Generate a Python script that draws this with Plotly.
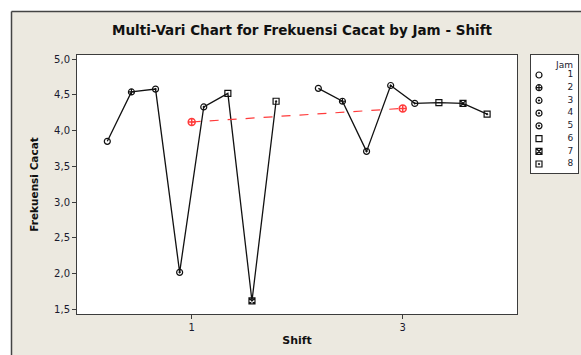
import plotly.graph_objects as go

# ---------------- data ----------------
shifts = [1, 3]
shift_labels = ["1", "3"]
jams = [1, 2, 3, 4, 5, 6, 7, 8]
jam_labels = ["1", "2", "3", "4", "5", "6", "7", "8"]
cacat_shift1 = [3.85, 4.54, 4.58, 2.02, 4.33, 4.52, 1.62, 4.41]
cacat_shift3 = [4.59, 4.41, 3.71, 4.63, 4.38, 4.39, 4.38, 4.23]
shift_means = [4.12, 4.31]
y_ticks = [1.5, 2.0, 2.5, 3.0, 3.5, 4.0, 4.5, 5.0]

# ---------------- style ----------------
jam_symbols = ["circle-open", "circle-cross-open", "circle-open-dot", "circle-open-dot",
               "circle-open-dot", "square-open", "square-x-open", "square-open-dot"]
BEIGE = "#ECE9E0"
DARK = "#3c3c3c"
TXT = "#1a1a2e"
FONT = "DejaVu Sans"

W, H = 581, 355
ML, MR, MT, MB = 77, 3, 55, 41
PW, PH = W - ML - MR, H - MT - MB
main_right_px = 517
leg_x0_px, leg_x1_px, leg_y1_px = 531, 578, 173


def px_x(p):
    return (p - ML) / PW


def px_y(p):
    return (H - MB - p) / PH


jam_spacing = 0.2285  # horizontal separation of Jam levels within a Shift
series = [cacat_shift1, cacat_shift3]

fig = go.Figure()

for s, vals in zip(shifts, series):
    xs = [s + (j - 4.5) * jam_spacing for j in jams]
    fig.add_trace(go.Scatter(
        x=xs, y=vals, mode="lines+markers",
        line=dict(color="#111111", width=1.3),
        marker=dict(symbol=[jam_symbols[j - 1] for j in jams], size=6,
                    color="#111111", line=dict(width=1.2, color="#111111")),
        showlegend=False, hoverinfo="skip"))

fig.add_trace(go.Scatter(
    x=shifts, y=shift_means, mode="lines+markers",
    line=dict(color="#ff3b3b", width=1.2, dash="dash"),
    marker=dict(symbol="circle-cross-open", size=7, color="#ff3b3b",
                line=dict(width=1.5, color="#ff3b3b")),
    showlegend=False, hoverinfo="skip"))

# legend built as an inset subplot
fig.add_trace(go.Scatter(
    x=[0.17] * len(jams), y=jams, mode="markers",
    marker=dict(symbol=jam_symbols, size=6, color="#111111",
                line=dict(width=1.2, color="#111111")),
    xaxis="x2", yaxis="y2", showlegend=False, hoverinfo="skip"))
fig.add_trace(go.Scatter(
    x=[0.9] * len(jams), y=jams, mode="text", text=jam_labels,
    textposition="middle left",
    textfont=dict(family=FONT, size=9, color=TXT),
    xaxis="x2", yaxis="y2", showlegend=False, hoverinfo="skip"))

shapes = [
    dict(type="rect", xref="paper", yref="paper", x0=px_x(-5), x1=px_x(W + 5),
         y0=px_y(11.5), y1=px_y(-5), fillcolor="white", line=dict(width=0), layer="below"),
    dict(type="rect", xref="paper", yref="paper", x0=px_x(-5), x1=px_x(11.5),
         y0=px_y(H + 5), y1=px_y(-5), fillcolor="white", line=dict(width=0), layer="below"),
    dict(type="line", xref="paper", yref="paper", x0=px_x(11.5), x1=px_x(W + 5),
         y0=px_y(11.5), y1=px_y(11.5), line=dict(color="#444", width=1.5), layer="below"),
    dict(type="line", xref="paper", yref="paper", x0=px_x(11.5), x1=px_x(11.5),
         y0=px_y(11.5), y1=px_y(H + 5), line=dict(color="#444", width=1.5), layer="below"),
]

fig.update_layout(
    width=W, height=H,
    margin=dict(l=ML, r=MR, t=MT, b=MB),
    paper_bgcolor=BEIGE, plot_bgcolor="white",
    separators=",.",
    font=dict(family=FONT, size=10, color=TXT),
    title=dict(text="<b>Multi-Vari Chart for Frekuensi Cacat by Jam - Shift</b>",
               x=302 / W, xanchor="center",
               y=1 - 30 / H, yanchor="middle",
               font=dict(family=FONT, size=13.5, color="#111")),
    xaxis=dict(domain=[0, px_x(main_right_px)], range=[-0.087, 4.083],
               tickvals=shifts, ticktext=shift_labels, ticks="outside", ticklen=4,
               tickcolor=DARK, showgrid=False, zeroline=False,
               showline=True, linecolor=DARK, linewidth=1, mirror=True,
               tickfont=dict(size=10, color=TXT),
               title=dict(text="<b>Shift</b>", standoff=4, font=dict(size=11, color="#111"))),
    yaxis=dict(range=[1.438, 5.056], tickvals=y_ticks, tickformat=".1f",
               ticks="outside", ticklen=4, tickcolor=DARK, showgrid=False, zeroline=False,
               showline=True, linecolor=DARK, linewidth=1, mirror=True,
               tickfont=dict(size=10, color=TXT),
               title=dict(text="<b>Frekuensi Cacat</b>", standoff=13,
                          font=dict(size=10.5, color="#111"))),
    xaxis2=dict(domain=[px_x(leg_x0_px), px_x(leg_x1_px)], range=[0, 1], anchor="y2",
                showticklabels=False, ticks="", showgrid=False, zeroline=False,
                showline=True, linecolor=DARK, linewidth=1, mirror=True),
    yaxis2=dict(domain=[px_y(leg_y1_px), 1], range=[8.708, -0.573], anchor="x2",
                showticklabels=False, ticks="", showgrid=False, zeroline=False,
                showline=True, linecolor=DARK, linewidth=1, mirror=True),
    annotations=[dict(text="Jam", xref="x2", yref="y2", x=0.93, y=0.2, xanchor="right",
                      yanchor="middle", showarrow=False,
                      font=dict(family=FONT, size=9, color=TXT))],
    shapes=shapes,
)

fig.write_html("out.html", config={"displayModeBar": False},
               post_script="document.body.style.margin='0';document.body.style.overflow='hidden';")
